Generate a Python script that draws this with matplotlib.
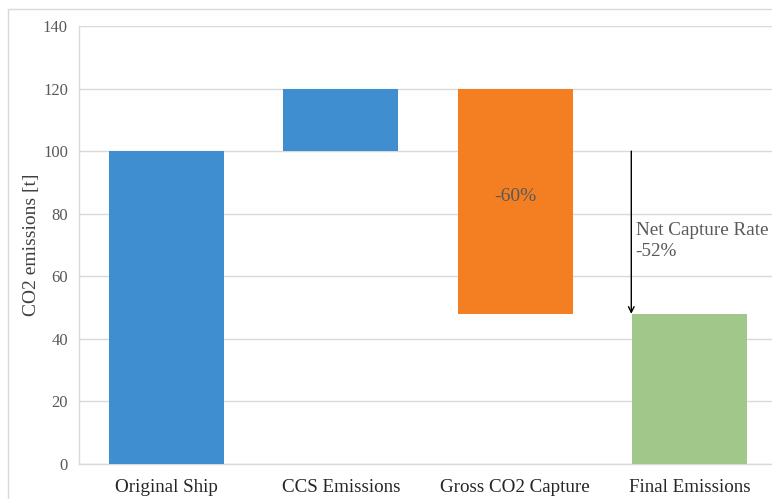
import numpy as np
import matplotlib
matplotlib.use('Agg')
import matplotlib.pyplot as plt
from matplotlib.patches import Rectangle

categories = ['Original Ship', 'CCS Emissions', 'Gross CO2 Capture', 'Final Emissions']
bottoms = [0, 100, 48, 0]
heights = [100, 20, 72, 48]
colors = ['#3f8fd0', '#3f8fd0', '#f47f22', '#a1c78a']
capture_label = '-60%'
net_label = 'Net Capture Rate\n-52%'
net_from, net_to = 100, 48

plt.rcParams['font.family'] = ['Liberation Serif', 'DejaVu Serif']

fig = plt.figure(figsize=(7.72, 4.99), dpi=100)
ax = fig.add_axes([79 / 772, 1 - 464 / 499, 698 / 772, 438 / 499])

x = np.arange(len(categories))
ax.bar(x, heights, bottom=bottoms, width=0.66, color=colors, zorder=3)

ax.set_xlim(-0.5, 3.5)
ax.set_ylim(0, 140)
ax.set_yticks(range(0, 141, 20))
ax.set_xticks(x)
ax.set_xticklabels(categories, fontsize=13.7, color='#262626')
ax.tick_params(axis='y', labelsize=12, labelcolor='#595959', length=0, pad=8)
ax.tick_params(axis='x', length=0, pad=11)
ax.set_ylabel('CO2 emissions [t]', fontsize=14, color='#404040', labelpad=2)
ax.grid(axis='y', color='#d9d9d9', linewidth=1, zorder=0)

for s in ['top', 'right']:
    ax.spines[s].set_visible(False)
for s in ['left', 'bottom']:
    ax.spines[s].set_color('#d9d9d9')
    ax.spines[s].set_linewidth(1)

# percentage inside the capture bar
ax.text(x[2], bottoms[2] + heights[2] * 0.52, capture_label, ha='center', va='center',
        fontsize=14, color='#595959', zorder=4)

# net capture arrow
arrow_x = 2.665
ax.annotate('', xy=(arrow_x, net_to), xytext=(arrow_x, net_from),
            arrowprops=dict(arrowstyle='->', color='black', lw=1, shrinkA=0, shrinkB=0),
            zorder=5)
ax.text(arrow_x + 0.025, 71.2, net_label, ha='left', va='center', fontsize=13.8,
        color='#595959', linespacing=1.3, zorder=5)

# light border around the chart
fig.patches.append(Rectangle((8 / 772, -0.05), 1.1, 1 - 9 / 499 + 0.05,
                             transform=fig.transFigure, fill=False,
                             edgecolor='#d9d9d9', linewidth=1))

fig.savefig('out.png', dpi=100)
